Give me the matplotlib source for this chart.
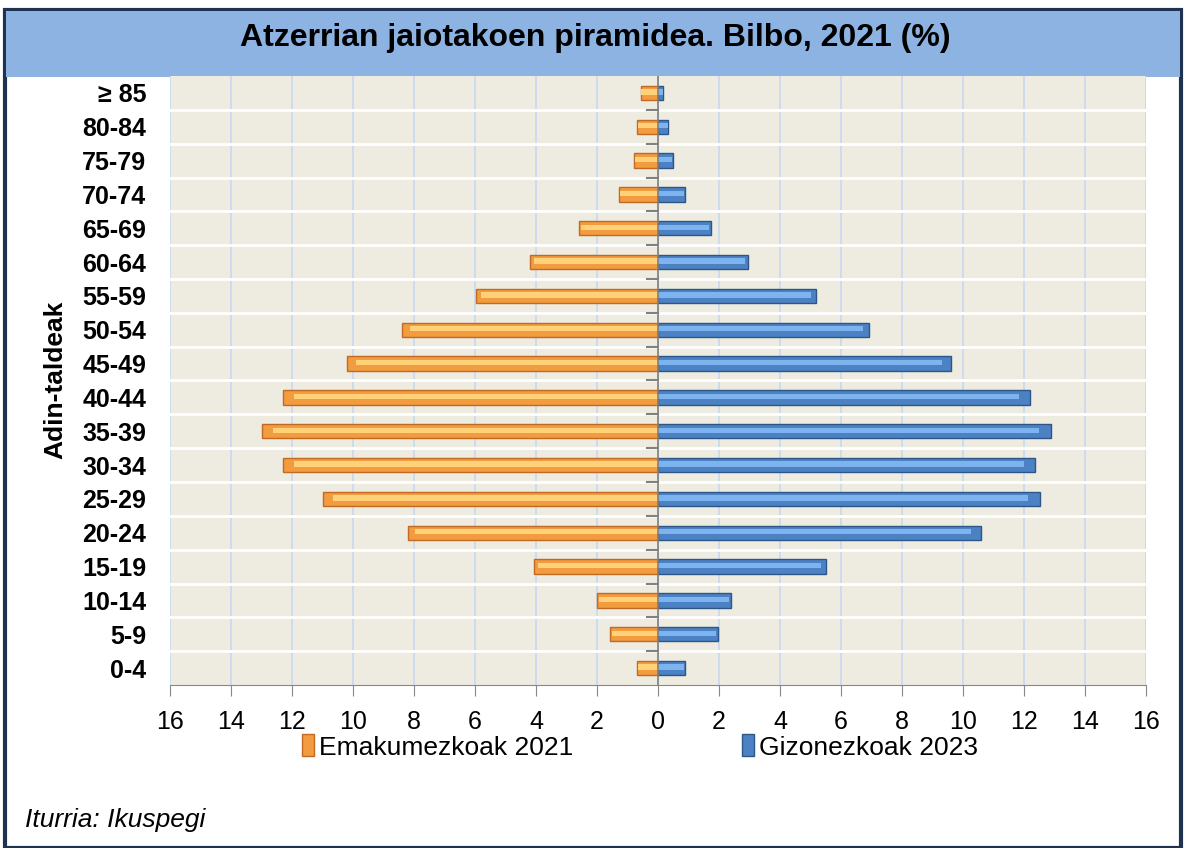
import matplotlib
matplotlib.use("Agg")
import matplotlib.pyplot as plt
from matplotlib.patches import Rectangle, Patch
import numpy as np

categories = ["0-4", "5-9", "10-14", "15-19", "20-24", "25-29", "30-34", "35-39",
              "40-44", "45-49", "50-54", "55-59", "60-64", "65-69", "70-74",
              "75-79", "80-84", "≥ 85"]
women = [0.69, 1.57, 2.0, 4.07, 8.2, 11.0, 12.3, 13.0, 12.3, 10.2, 8.39, 5.97,
         4.2, 2.59, 1.28, 0.79, 0.69, 0.56]
men = [0.89, 1.97, 2.39, 5.51, 10.59, 12.52, 12.36, 12.89, 12.2, 9.6, 6.92, 5.18,
       2.95, 1.74, 0.89, 0.49, 0.33, 0.16]
xticks = list(range(-16, 17, 2))
xticklabels = [str(abs(v)) for v in xticks]
title = "Atzerrian jaiotakoen piramidea. Bilbo, 2021 (%)"
ylabel = "Adin-taldeak"
legend_labels = ["Emakumezkoak 2021", "Gizonezkoak 2023"]
source = "Iturria: Ikuspegi"

plt.rcParams['font.family'] = ['Liberation Sans', 'DejaVu Sans']

fig = plt.figure(figsize=(11.86, 8.48), dpi=100)
W, H = 1186, 848

# outer frame and title band
fig.patches.append(Rectangle((5 / W, 0), 1176 / W, 838 / H, transform=fig.transFigure,
                             facecolor="white", edgecolor="#1F3350", linewidth=3, zorder=0))
fig.patches.append(Rectangle((6 / W, (H - 77) / H), 1174 / W, 66 / H, transform=fig.transFigure,
                             facecolor="#8DB3E2", edgecolor="none", zorder=1))
fig.text(595 / W, 1 - 38 / H, title, ha="center", va="center", fontsize=23,
         fontweight="bold", color="black", zorder=3)

ax = fig.add_axes([170 / W, 1 - 685 / H, 976 / W, 609 / H])
ax.set_zorder(2)
ax.set_facecolor("#EEEBE0")
y = np.arange(len(categories))
wneg = -np.array(women)
mpos = np.array(men)

h = 0.42
ax.barh(y, wneg, height=h, color="#F29B3F", edgecolor="#C06A25", linewidth=1.0, zorder=3)
ax.barh(y + 0.03, wneg * 0.97, height=h * 0.38, color="#FFD27A", edgecolor="none", zorder=4)
ax.barh(y, mpos, height=h, color="#4C82C4", edgecolor="#2D5588", linewidth=1.0, zorder=3)
ax.barh(y + 0.03, mpos * 0.97, height=h * 0.38, color="#7DB3EE", edgecolor="none", zorder=4)

ax.set_xlim(-16, 16)
ax.set_ylim(-0.5, len(categories) - 0.5)
ax.set_xticks(xticks)
ax.set_xticklabels(xticklabels, fontsize=18)
ax.set_yticks(y)
ax.set_yticklabels(categories, fontsize=18, fontweight="bold")
ax.tick_params(axis="y", length=0, pad=17)
ax.tick_params(axis="x", direction="out", length=8, color="#888888", pad=10)

for xv in xticks:
    ax.axvline(xv, color="#C6D9F1", linewidth=1.2, zorder=1)
for yb in np.arange(0.5, len(categories) - 0.5, 1):
    ax.axhline(yb, color="white", linewidth=2, zorder=1)
    ax.plot([-0.35, 0], [yb, yb], color="#808080", linewidth=1.5, zorder=5)
ax.axvline(0, color="#808080", linewidth=1.2, zorder=5)

for s in ["top", "right", "left"]:
    ax.spines[s].set_visible(False)
ax.spines["bottom"].set_color("#888888")

fig.text(55 / W, 1 - 380 / H, ylabel, rotation=90, ha="center", va="center",
         fontsize=19, fontweight="bold", zorder=3)

handles = [Patch(facecolor="#F29B3F", edgecolor="#C06A25"),
           Patch(facecolor="#4C82C4", edgecolor="#2D5588")]
leg = fig.legend(handles, legend_labels, loc="center", bbox_to_anchor=(640 / W, 1 - 747 / H),
                 ncol=2, frameon=False, fontsize=19, handlelength=0.45, handleheight=0.9,
                 handletextpad=0.2, columnspacing=6.4)
leg.set_zorder(3)

fig.text(25 / W, 1 - 820 / H, source, ha="left", va="center", fontsize=19, style="italic",
         zorder=3)

fig.savefig("out.png", dpi=100)
